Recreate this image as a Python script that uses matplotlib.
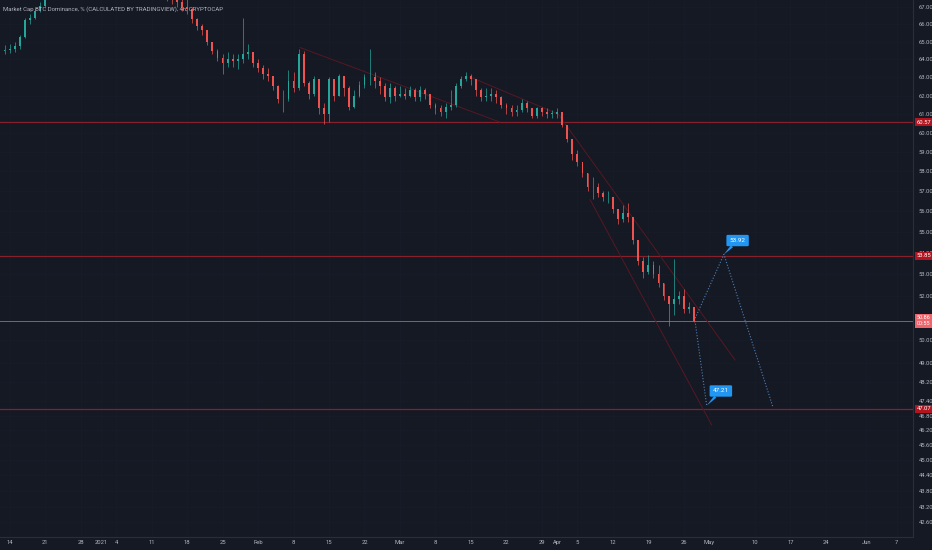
import datetime
import numpy as np
import matplotlib
matplotlib.use("Agg")
import matplotlib.pyplot as plt
from matplotlib.ticker import FixedLocator, FixedFormatter, NullLocator
from matplotlib.transforms import blended_transform_factory

# BTC dominance, daily candles (Dec 12 2020 .. Apr 28 2021)
start_date = datetime.date(2020, 12, 12)
first_open = 64.30
closes = [
    64.45, 64.55, 64.60, 64.75, 65.25, 66.25, 66.40, 66.80, 67.10, 67.80,
    68.30, 69.50, 69.00, 69.60, 70.50, 70.10, 70.30, 71.00, 71.30, 71.20,
    72.00, 72.80, 70.90, 69.60, 69.80, 70.20, 70.60, 70.30, 70.60, 70.10,
    68.90, 69.30, 68.70, 67.80, 67.60, 67.30, 67.00, 66.90, 66.30, 65.90,
    65.70, 65.00, 64.50, 64.10, 63.80, 64.00, 63.90, 64.00, 64.30, 64.40,
    63.80, 63.50, 63.20, 63.10, 62.50, 61.80, 61.80, 62.80, 62.40, 64.30,
    62.70, 62.10, 62.90, 61.30, 61.00, 62.90, 62.00, 63.10, 62.40, 61.40,
    62.00, 62.60, 63.00, 63.00, 62.80, 62.50, 61.90, 62.40, 62.00, 62.10,
    62.00, 62.30, 61.90, 62.30, 62.10, 61.50, 61.30, 61.10, 61.40, 61.50,
    62.50, 62.90, 63.10, 62.90, 62.30, 61.90, 62.00, 62.10, 61.90, 61.50,
    61.30, 61.10, 61.20, 61.60, 61.30, 60.90, 61.30, 61.10, 61.00, 61.00,
    61.10, 60.40, 59.70, 58.90, 58.50, 57.90, 57.20, 57.20, 56.90, 56.70,
    56.70, 56.10, 55.60, 55.90, 55.70, 54.60, 53.60, 53.10, 53.40, 53.00,
    52.60, 52.00, 51.60, 51.85, 52.00, 51.40, 51.50, 50.86,
]
highs = [
    64.70, 64.80, 64.90, 65.00, 65.40, 66.40, 66.60, 66.95, 67.30, 68.10,
    68.80, 69.80, 69.70, 69.90, 70.80, 70.90, 70.70, 71.30, 71.60, 71.80,
    72.30, 73.60, 72.90, 71.20, 70.30, 70.60, 71.00, 70.90, 70.90, 70.80,
    70.20, 69.80, 69.50, 68.90, 68.20, 67.90, 67.50, 67.50, 67.00, 66.40,
    66.00, 65.70, 65.00, 64.60, 64.30, 64.40, 64.30, 64.30, 66.40, 64.90,
    64.40, 64.00, 63.70, 63.50, 63.10, 62.60, 62.30, 63.40, 63.30, 64.60,
    64.50, 62.80, 63.10, 62.90, 61.60, 63.00, 62.90, 63.20, 63.10, 62.50,
    62.30, 62.80, 63.20, 64.60, 63.30, 63.00, 62.70, 62.70, 62.50, 62.50,
    62.40, 62.50, 62.40, 62.50, 62.40, 62.10, 61.60, 61.50, 61.60, 62.30,
    62.70, 63.10, 63.30, 63.20, 62.90, 62.40, 62.40, 62.40, 62.30, 62.00,
    61.60, 61.50, 61.50, 61.80, 61.70, 61.30, 61.40, 61.40, 61.30, 61.20,
    61.30, 61.10, 60.40, 59.70, 59.10, 58.50, 57.90, 57.70, 57.40, 57.00,
    57.00, 56.70, 56.10, 56.30, 56.40, 55.70, 54.60, 53.80, 53.90, 53.60,
    53.40, 52.60, 52.00, 53.70, 52.20, 52.30, 51.70, 51.50,
]
lows = [
    64.20, 64.30, 64.35, 64.40, 64.60, 65.20, 66.00, 66.30, 66.70, 67.00,
    67.60, 68.20, 68.60, 68.80, 69.40, 69.60, 69.70, 70.10, 70.70, 70.90,
    71.00, 71.80, 70.30, 69.00, 69.20, 69.50, 70.00, 69.80, 70.00, 69.70,
    68.20, 68.60, 68.30, 67.40, 67.20, 67.00, 66.80, 66.60, 66.10, 65.70,
    65.40, 64.80, 64.30, 63.90, 63.20, 63.60, 63.60, 63.45, 63.80, 64.00,
    63.60, 63.30, 62.90, 62.80, 62.30, 61.60, 61.10, 61.70, 62.20, 62.30,
    62.50, 61.80, 62.00, 61.00, 60.46, 60.60, 61.70, 62.00, 62.00, 61.20,
    61.30, 61.90, 62.40, 62.60, 62.40, 62.10, 61.70, 61.60, 61.70, 61.90,
    61.80, 61.90, 61.70, 61.70, 61.80, 61.30, 61.00, 60.90, 60.80, 61.20,
    61.40, 62.40, 62.80, 62.60, 62.00, 61.70, 61.70, 61.70, 61.60, 61.30,
    61.00, 60.90, 60.90, 61.10, 61.10, 60.80, 60.80, 60.90, 60.80, 60.80,
    60.80, 60.30, 59.50, 58.60, 58.30, 57.70, 57.00, 56.60, 56.70, 56.50,
    56.40, 55.90, 55.40, 55.50, 55.50, 54.40, 53.40, 52.80, 53.00, 52.80,
    52.40, 51.80, 50.65, 51.10, 51.60, 51.20, 51.20, 50.80,
]

# horizontal levels drawn on the chart
levels = [60.57, 53.85, 47.07]
last_price = 50.86
countdown = "00:55"

# trend lines (day offset from Feb 1, value)
trend_lines = [
    ([8.3, 47.7], [64.67, 60.57]),
    ([41.8, 59.2, 94.1], [63.02, 61.00, 49.14]),
    ([65.5, 89.5], [56.58, 46.41]),
]
# projected path and targets
proj_up_days = [86.0, 91.9, 101.6]
proj_up_vals = [50.86, 53.92, 47.13]
proj_dn_days = [86.2, 88.5]
proj_dn_vals = [50.86, 47.21]
targets = [("53.92", 91.9, 53.92, 94.6, 54.58), ("47.21", 88.5, 47.21, 91.3, 47.82)]

# 51.00 sits fully behind the last-price box, as on the original scale
ytick_vals = [67, 66, 65, 64, 63, 62, 61, 60, 59, 58, 57, 56, 55, 54, 53, 52, 50,
              49, 48.2, 47.4, 46.8, 46.2, 45.6, 45.0, 44.4, 43.8, 43.2, 42.6]
xtick_dates = ["2020-12-14", "2020-12-21", "2020-12-28", "2021-01-01", "2021-01-04",
               "2021-01-11", "2021-01-18", "2021-01-25", "2021-02-01", "2021-02-08",
               "2021-02-15", "2021-02-22", "2021-03-01", "2021-03-08", "2021-03-15",
               "2021-03-22", "2021-03-29", "2021-04-01", "2021-04-05", "2021-04-12",
               "2021-04-19", "2021-04-26", "2021-05-01", "2021-05-10", "2021-05-17",
               "2021-05-24", "2021-06-01", "2021-06-07"]
xtick_labels = ["14", "21", "28", "2021", "4", "11", "18", "25", "Feb", "8", "15", "22",
                "Mar", "8", "15", "22", "29", "Apr", "5", "12", "19", "26", "May", "10",
                "17", "24", "Jun", "7"]

title = "Market Cap BTC Dominance, % (CALCULATED BY TRADINGVIEW), 4h, CRYPTOCAP"

bg = "#151924"
txt_col = "#b2b5be"
up_col = "#26a69a"
dn_col = "#ef5350"
level_col = "#87202a"

plt.rcParams["font.family"] = ["Roboto", "DejaVu Sans"]

base = datetime.date(2021, 2, 1)
c = np.array(closes)
o = np.concatenate([[first_open], c[:-1]])
h = np.maximum(np.array(highs), np.maximum(o, c))
l = np.minimum(np.array(lows), np.minimum(o, c))
days = np.arange(len(c)) + (start_date - base).days
cols = np.where(c >= o, up_col, dn_col)

fig = plt.figure(figsize=(9.32, 5.5), dpi=100, facecolor=bg)
ax = fig.add_axes([0, 13 / 550, 913 / 932, 537 / 550])
ax.set_facecolor(bg)
ax.set_yscale("log")
ax.set_xlim(-50.9, 129.2)
ax.set_ylim(42.06, 67.43)

# faint grid
for v in ytick_vals:
    ax.axhline(v, color="#191d29", lw=0.5, zorder=0)
xticks = [(datetime.date.fromisoformat(s) - base).days for s in xtick_dates]
for xv in xticks:
    ax.axvline(xv, color="#191d29", lw=0.5, zorder=0)

# levels
for lv in levels:
    ax.axhline(lv, color=level_col, lw=0.9, zorder=1)
ax.axhline(last_price, color="#6e6a78", lw=0.7, zorder=1)

for xs, ys in trend_lines:
    ax.plot(xs, ys, color="#561822", lw=0.7, zorder=1)

# candles
ax.vlines(days, l, h, colors=cols, lw=0.5, zorder=3)
body = np.maximum(np.abs(c - o), 0.03)
ax.bar(days, body, bottom=np.minimum(o, c), width=0.36, color=cols, zorder=3)

# projection
dot = (0, (1, 1.6))
ax.plot(proj_up_days, proj_up_vals, color="#4f7fb3", lw=0.8, ls=dot, zorder=2)
ax.plot(proj_dn_days, proj_dn_vals, color="#4f7fb3", lw=0.8, ls=dot, zorder=2)
for lab, px, py, bx, by in targets:
    ax.annotate(lab, xy=(px, py), xytext=(bx, by), fontsize=4.6, color="white",
                ha="center", va="center", zorder=6,
                bbox=dict(boxstyle="round,pad=0.5,rounding_size=0.2", fc="#2196f3", ec="none"),
                arrowprops=dict(arrowstyle="wedge,tail_width=0.45", fc="#2196f3", ec="none",
                                shrinkA=0, shrinkB=0))

# axes cosmetics
for s in ["top", "left"]:
    ax.spines[s].set_visible(False)
for s in ["bottom", "right"]:
    ax.spines[s].set_color("#2a2e39")
    ax.spines[s].set_linewidth(0.8)

ax.yaxis.tick_right()
ax.yaxis.set_major_locator(FixedLocator(ytick_vals))
ax.yaxis.set_major_formatter(FixedFormatter([f"{v:.2f}" for v in ytick_vals]))
ax.yaxis.set_minor_locator(NullLocator())
ax.tick_params(axis="y", length=0, pad=4, labelsize=4.2, labelcolor=txt_col)

ax.xaxis.set_major_locator(FixedLocator(xticks))
ax.xaxis.set_major_formatter(FixedFormatter(xtick_labels))
ax.tick_params(axis="x", length=0, pad=2.5, labelsize=4.2, labelcolor=txt_col)

# price boxes on the scale
tr = blended_transform_factory(ax.transAxes, ax.transData)
for lv in levels:
    ax.text(1.004, lv, f"{lv:.2f}", transform=tr, ha="left", va="center", fontsize=4.2,
            color="white", clip_on=False, zorder=7,
            bbox=dict(boxstyle="square,pad=0.3", fc="#b2151f", ec="none"))
ax.text(1.004, last_price, f"{last_price:.2f}\n{countdown}", transform=tr, ha="left",
        va="center", fontsize=4.0, color="white", linespacing=1.2, clip_on=False, zorder=7,
        bbox=dict(boxstyle="square,pad=0.35", fc="#f0646c", ec="none"))

ax.text(0.003, 0.988, title, transform=ax.transAxes, ha="left", va="top",
        fontsize=4.3, color=txt_col, zorder=8)

fig.savefig("out.png", dpi=100, facecolor=bg)
